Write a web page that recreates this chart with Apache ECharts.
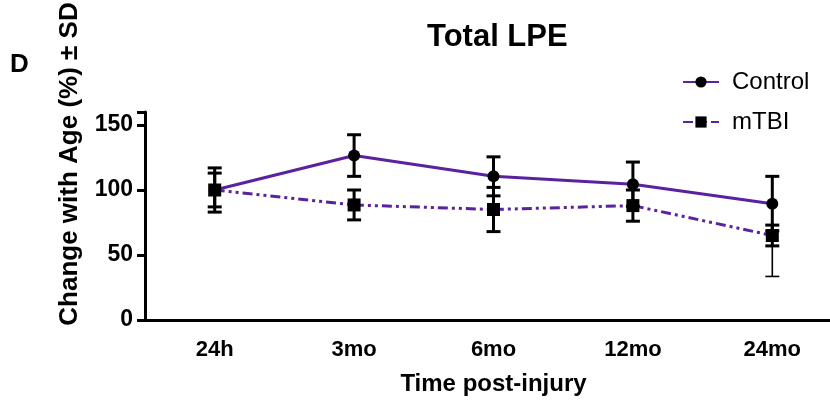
<!DOCTYPE html>
<html>
<head>
<meta charset="utf-8">
<script src="https://cdn.jsdelivr.net/npm/echarts@6/dist/echarts.min.js"></script>
<style>
html,body{margin:0;padding:0;background:#fff;overflow:hidden;}
#chart{width:850px;height:404px;}
</style>
</head>
<body>
<div id="chart"></div>
<script>
var categories = ['24h', '3mo', '6mo', '12mo', '24mo'];
var controlMean = [100, 126.5, 110.5, 104.5, 89.5];
var controlSD = [17, 16, 15, 17, 21];
var mtbiMean = [100, 88.5, 85, 88, 65];
var mtbiSD = [13, 11.5, 17, 12, 8];
var mtbiExtraLow = [null, null, null, null, 33.5];
var yTicks = [0, 50, 100, 150];

var PURPLE = '#5b22a0';
var FONT = '"Liberation Sans", Arial, sans-serif';

function errData(mean, sd) {
  return mean.map(function (m, i) { return [i, m - sd[i], m + sd[i]]; });
}
var extraData = [];
mtbiExtraLow.forEach(function (v, i) {
  if (v !== null) extraData.push([i, mtbiMean[i] - mtbiSD[i], v]);
});

function errRender(width, capTop, capBottom) {
  return function (params, api) {
    var lo = api.coord([api.value(0), api.value(1)]);
    var hi = api.coord([api.value(0), api.value(2)]);
    var w = 7;
    var st = { stroke: '#000', lineWidth: width };
    var ch = [{ type: 'line', shape: { x1: lo[0], y1: lo[1], x2: hi[0], y2: hi[1] }, style: st }];
    if (capTop) ch.push({ type: 'line', shape: { x1: hi[0] - w, y1: hi[1], x2: hi[0] + w, y2: hi[1] }, style: st });
    if (capBottom) ch.push({ type: 'line', shape: { x1: lo[0] - w, y1: lo[1], x2: lo[0] + w, y2: lo[1] }, style: st });
    return { type: 'group', children: ch };
  };
}

var chart = echarts.init(document.getElementById('chart'), null, { renderer: 'canvas' });
chart.setOption({
  animation: false,
  backgroundColor: '#fff',
  title: {
    text: 'Total LPE',
    left: 422,
    top: 17,
    textStyle: { fontFamily: FONT, fontWeight: 'bold', fontSize: 31, color: '#000' }
  },
  legend: {
    data: ['Control', 'mTBI'],
    orient: 'vertical',
    left: 677,
    top: 65,
    itemWidth: 36,
    itemHeight: 14,
    itemGap: 16,
    textStyle: { fontFamily: FONT, fontSize: 24, color: '#000', padding: [0, 0, 0, 8] }
  },
  graphic: [
    {
      type: 'text', left: 10, top: 52,
      style: { text: 'D', font: 'bold 26px ' + FONT, fill: '#000' }
    },
    {
      type: 'text', x: 70, y: 164, rotation: Math.PI / 2,
      style: {
        text: 'Change with Age (%) \u00b1 SD', font: 'bold 26px ' + FONT, fill: '#000',
        textAlign: 'center', textVerticalAlign: 'middle'
      }
    }
  ],
  grid: { left: 145, top: 112, width: 697, height: 208, containLabel: false },
  xAxis: {
    type: 'category',
    data: categories,
    boundaryGap: true,
    name: 'Time post-injury',
    nameLocation: 'middle',
    nameGap: 52,
    nameTextStyle: { fontFamily: FONT, fontWeight: 'bold', fontSize: 24, color: '#000' },
    axisLine: { lineStyle: { color: '#000', width: 3 } },
    axisTick: { alignWithLabel: true, length: 8, lineStyle: { color: '#000', width: 3 } },
    axisLabel: { fontFamily: FONT, fontWeight: 'bold', fontSize: 22, color: '#000', margin: 19 },
    splitLine: { show: false }
  },
  yAxis: {
    type: 'value',
    min: 0,
    max: 160,
    interval: 50,
    axisLine: { show: true, lineStyle: { color: '#000', width: 3 } },
    axisTick: { show: true, length: 8, lineStyle: { color: '#000', width: 3 } },
    axisLabel: {
      fontFamily: FONT, fontWeight: 'bold', fontSize: 23, color: '#000', margin: 12,
      formatter: function (v) { return yTicks.indexOf(v) >= 0 ? String(v) : ''; }
    },
    splitLine: { show: false }
  },
  series: [
    {
      name: 'Control', type: 'line', data: controlMean,
      symbol: 'circle', symbolSize: 12,
      itemStyle: { color: '#000' },
      lineStyle: { color: PURPLE, width: 3 },
      z: 3
    },
    {
      name: 'mTBI', type: 'line', data: mtbiMean,
      symbol: 'rect', symbolSize: 13,
      itemStyle: { color: '#000' },
      lineStyle: { color: PURPLE, width: 3, type: [10, 4, 3, 4, 3, 4] },
      z: 3
    },
    {
      type: 'custom', data: errData(controlMean, controlSD),
      renderItem: errRender(3, true, true), z: 4, silent: true
    },
    {
      type: 'custom', data: errData(mtbiMean, mtbiSD),
      renderItem: errRender(3, true, true), z: 4, silent: true
    },
    {
      type: 'custom', data: extraData,
      renderItem: errRender(1.6, true, false), z: 4, silent: true
    }
  ]
});
</script>
</body>
</html>
